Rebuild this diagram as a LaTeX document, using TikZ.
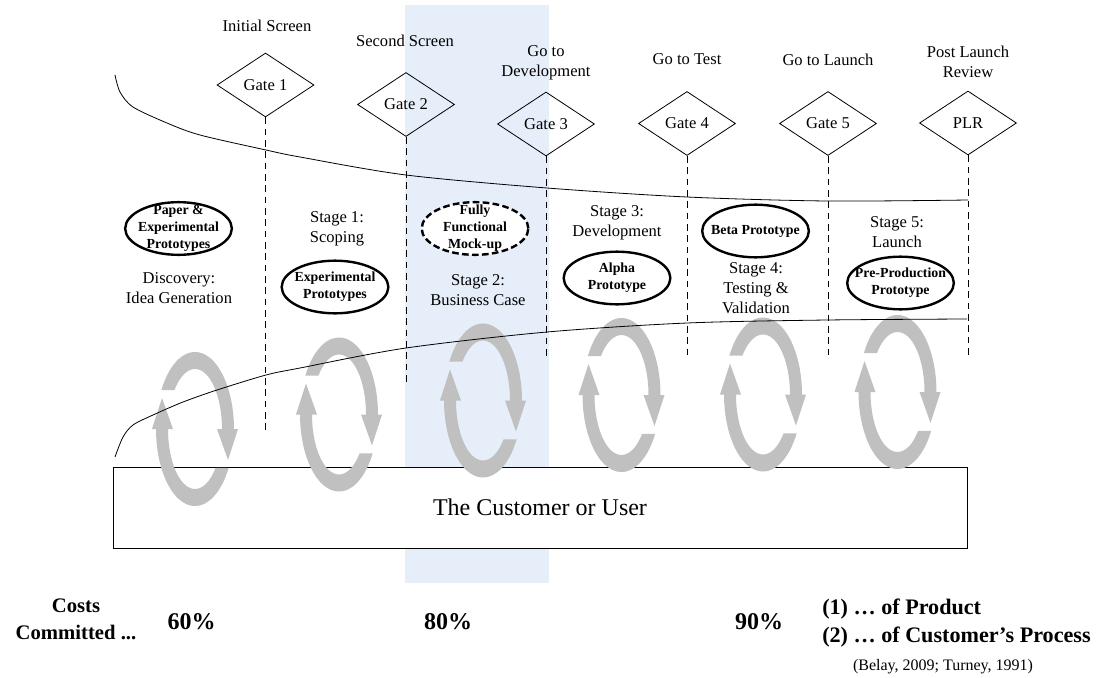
\documentclass[tikz,border=0pt]{standalone}
\usepackage{fontspec}
\setmainfont{Liberation Serif}
\usetikzlibrary{shapes.geometric}
\definecolor{phaseblue}{RGB}{230,238,249}
\definecolor{loopgray}{RGB}{192,192,192}
\tikzset{
  gate/.style={diamond, draw, line width=0.6pt, aspect=1.5, minimum width=72.75pt,
    minimum height=48pt, inner sep=0pt, font=\fontsize{12.4}{15}\selectfont},
  lab/.style={align=center, inner sep=0pt, font=\fontsize{12.4}{15}\selectfont},
  gateline/.style={line width=0.7pt, dash pattern=on 5pt off 3.5pt},
  proto/.style={ellipse, draw, fill=white, line width=1.8pt, minimum width=80pt,
    minimum height=39.5pt, inner sep=0pt},
  protodash/.style={proto, dash pattern=on 5pt off 2.5pt},
  prototext/.style={align=center, inner sep=0pt, font=\bfseries\fontsize{10.4}{12.75}\selectfont},
  costpct/.style={inner sep=0pt, font=\bfseries\fontsize{18}{21}\selectfont},
  % two opposed grey arcs with arrow heads (iteration loop)
  cyclearrow/.pic={
    \fill[loopgray] plot[domain=210.4:360,samples=40] ({39*cos(\x)},{77*sin(\x)})
      -- (43,0) -- (33,31) -- (22,0) -- (27,0)
      -- plot[domain=360:220.5,samples=40] ({27*cos(\x)},{60*sin(\x)}) -- cycle;
    \fill[loopgray] plot[domain=30.4:180,samples=40] ({39*cos(\x)},{77*sin(\x)})
      -- (-43,0) -- (-33,-31) -- (-22,0) -- (-27,0)
      -- plot[domain=180:40.5,samples=40] ({27*cos(\x)},{60*sin(\x)}) -- cycle;
  }
}
\begin{document}
\begin{tikzpicture}[x=0.75pt,y=-0.75pt]
\useasboundingbox (0,0) rectangle (1103,678);

% highlighted band behind Stage 2
\fill[phaseblue] (405,5) rectangle (549,583);

% customer box
\node[draw, fill=white, line width=0.6pt, minimum width=640.5pt, minimum height=60.75pt,
  inner sep=0pt, font=\fontsize{18}{21}\selectfont] (cust) at (540,507.5) {The Customer or User};

% gates
\node[gate] (g1) at (265.5,85)  {Gate 1};
\node[gate] (g2) at (406,104.5) {Gate 2};
\node[gate] (g3) at (546,124)   {Gate 3};
\node[gate] (g4) at (687,123.5) {Gate 4};
\node[gate] (g5) at (828,123.5) {Gate 5};
\node[gate] (plr) at (968,123)  {PLR};

% gate titles
\node[lab] (t1) at (267,26)  {Initial Screen};
\node[lab] (t2) at (405,41)  {Second Screen};
\node[lab] (t3) at (546,63)  {Go to\\Development};
\node[lab] (t4) at (687,59)  {Go to Test};
\node[lab] (t5) at (828,60)  {Go to Launch};
\node[lab] (t6) at (968,62)  {Post Launch\\Review};

% dashed gate lines
\coordinate (g1end) at (265.5,432);
\coordinate (g2end) at (406,385);
\coordinate (g3end) at (546,357);
\coordinate (g4end) at (687,357);
\coordinate (g5end) at (828,357);
\coordinate (plrend) at (968,357);
\draw[gateline] (g1.south) -- (g1end);
\draw[gateline] (g2.south) -- (g2end);
\draw[gateline] (g3.south) -- (g3end);
\draw[gateline] (g4.south) -- (g4end);
\draw[gateline] (g5.south) -- (g5end);
\draw[gateline] (plr.south) -- (plrend);

% falling curve
\draw[line width=0.6pt] plot[smooth, tension=0.5] coordinates {
  (115,75) (120,92) (133,107) (167,123) (200,135) (266,150) (300,157)
  (406,175) (547,188) (687,197) (827,201) (968,200)};

% iteration loops
\pic at (195,429) {cyclearrow};
\pic at (339,414.5) {cyclearrow};
\pic at (483,400.5) {cyclearrow};
\pic at (621.5,395) {cyclearrow};
\pic at (763,394.5) {cyclearrow};
\pic at (897.5,392) {cyclearrow};

% rising curve
\draw[line width=0.6pt] plot[smooth, tension=0.5] coordinates {
  (115,457) (123,437) (133,425) (153,415) (183,402) (217,390) (266,375)
  (300,368) (406,348) (547,332) (687,323) (827,320) (967,319)};

% prototypes
\node[proto] (e0) at (178.5,228.5) {};
\node[prototext] (e0t) at (e0) {Paper \&\\Experimental\\Prototypes};
\node[proto] (e1) at (335,287) {};
\node[prototext] (e1t) at (e1) {Experimental\\Prototypes};
\node[protodash] (e2) at (475,228.5) {};
\node[prototext] (e2t) at (e2) {Fully\\Functional\\Mock-up};
\node[proto] (e3) at (617,278) {};
\node[prototext] (e3t) at (e3) {Alpha\\Prototype};
\node[proto] (e4) at (755.5,231) {};
\node[prototext] (e4t) at (e4) {Beta Prototype};
\node[proto] (e5) at (900.5,283) {};
\node[prototext] (e5t) at (e5) {Pre-Production\\Prototype};

% stage names
\node[lab] (s0) at (179,288.5) {Discovery:\\Idea Generation};
\node[lab] (s1) at (337,229)   {Stage 1:\\Scoping};
\node[lab] (s2) at (478,290)   {Stage 2:\\Business Case};
\node[lab] (s3) at (617,223)   {Stage 3:\\Development};
\node[lab] (s4) at (756,288)   {Stage 4:\\Testing \&\\Validation};
\node[lab] (s5) at (897,232)   {Stage 5:\\Launch};

% costs committed
\node[align=center, inner sep=0pt, font=\bfseries\fontsize{15.5}{20}\selectfont]
  (costs) at (76,619.5) {Costs\\Committed ...};
\node[costpct] (c60) at (191.5,622) {60\%};
\node[costpct] (c80) at (448,622) {80\%};
\node[costpct] (c90) at (759,622) {90\%};
\node[anchor=west, align=left, inner sep=0pt, font=\bfseries\fontsize{16.6}{21}\selectfont]
  (what) at (822,623) {(1) … of Product\\(2) … of Customer’s Process};
\node[inner sep=0pt, font=\fontsize{12}{14}\selectfont] (cite) at (943,667)
  {(Belay, 2009; Turney, 1991)};
\end{tikzpicture}
\end{document}
